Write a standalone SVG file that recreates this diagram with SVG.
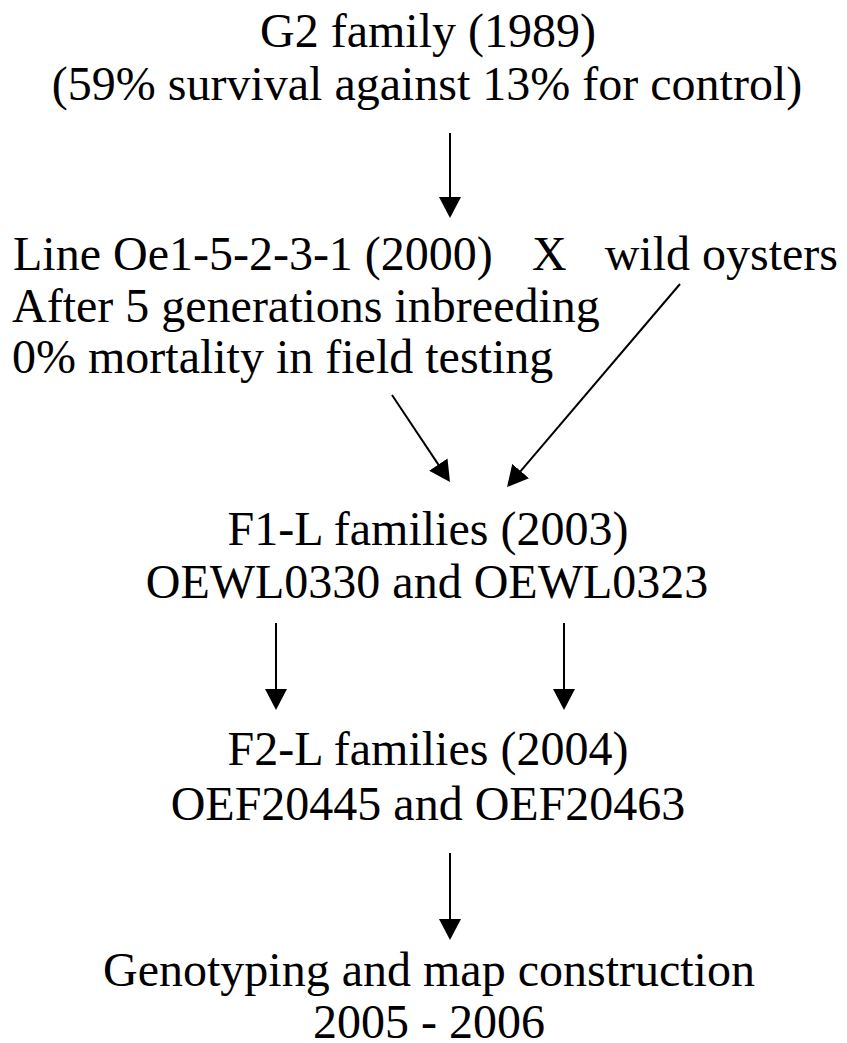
<svg xmlns="http://www.w3.org/2000/svg" width="847" height="1043" viewBox="0 0 847 1043">
<style>
  text { font-family: 'Liberation Serif', Tinos, 'Times New Roman', Times, 'DejaVu Serif', serif; font-size: 48px; fill: #000; }
  .c { text-anchor: middle; }
  .conn line { stroke: #000; stroke-width: 2; fill: none; marker-end: url(#ah); }
</style>
<defs>
  <marker id="ah" markerUnits="userSpaceOnUse" markerWidth="22" markerHeight="22" refX="1" refY="11" orient="auto" viewBox="0 0 22 22">
    <path d="M0,0 L21,11 L0,22 Z" fill="#000"/>
  </marker>
</defs>
<rect width="847" height="1043" fill="#fff"/>
<g id="g2">
  <text class="c" x="428" y="47">G2 family (1989)</text>
  <text class="c" x="427" y="100">(59% survival against 13% for control)</text>
</g>
<g id="line">
  <text x="13" y="270">Line Oe1-5-2-3-1 (2000)</text>
  <text x="12" y="322">After 5 generations inbreeding</text>
  <text x="12" y="373">0% mortality in field testing</text>
</g>
<g id="cross">
  <text x="532" y="270">X</text>
</g>
<g id="wild">
  <text x="838" y="270" text-anchor="end">wild oysters</text>
</g>
<g id="f1">
  <text class="c" x="428" y="545">F1-L families (2003)</text>
  <text class="c" x="427" y="598">OEWL0330 and OEWL0323</text>
</g>
<g id="f2">
  <text class="c" x="428" y="765">F2-L families (2004)</text>
  <text class="c" x="428" y="820">OEF20445 and OEF20463</text>
</g>
<g id="geno">
  <text class="c" x="429" y="986">Genotyping and map construction</text>
  <text class="c" x="429" y="1038">2005 - 2006</text>
</g>
<g class="conn" id="connectors">
  <line x1="450" y1="133" x2="450" y2="198"/>
  <line x1="392" y1="395" x2="438.9" y2="465.4"/>
  <line x1="680" y1="284" x2="520" y2="471.8"/>
  <line x1="276" y1="623" x2="276" y2="690"/>
  <line x1="564" y1="623" x2="564" y2="690"/>
  <line x1="450" y1="853" x2="450" y2="920"/>
</g>
</svg>
